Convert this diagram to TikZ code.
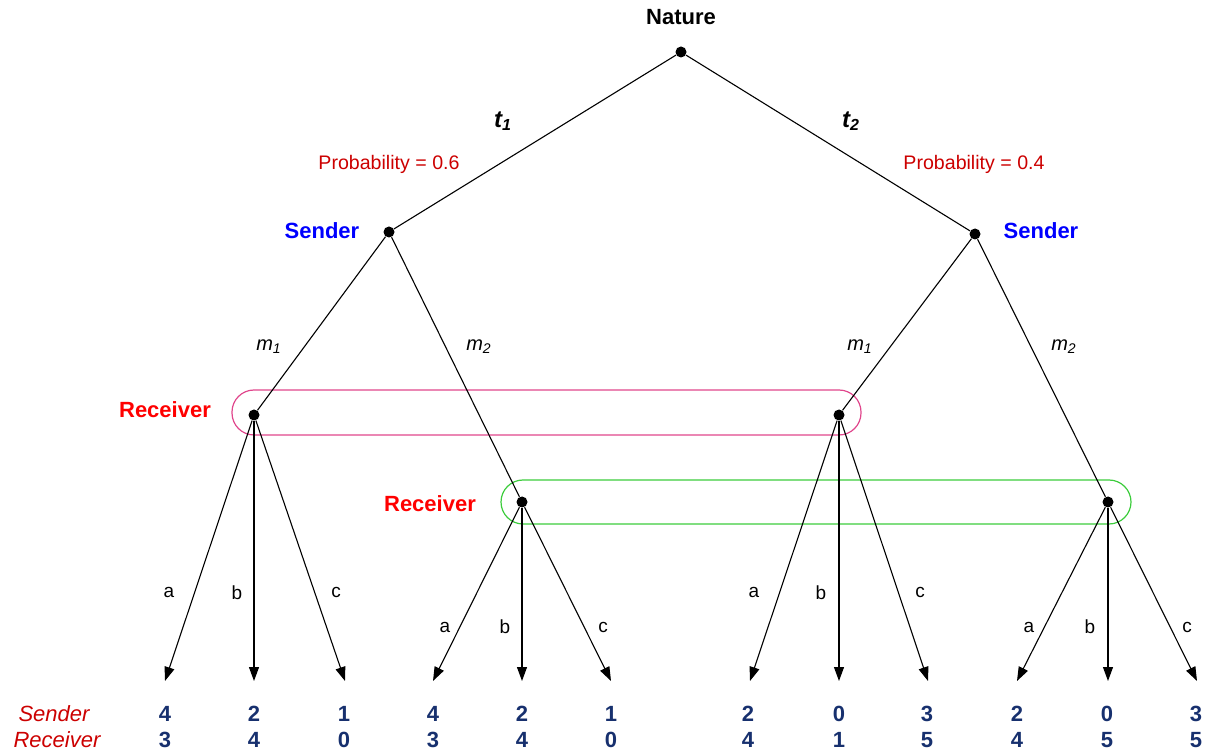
\documentclass[tikz,border=0pt]{standalone}
\usepackage{fontspec}
\setmainfont{Liberation Sans}
\usepackage{xcolor}
\usetikzlibrary{arrows.meta}
\definecolor{probred}{HTML}{CC0000}
\definecolor{recred}{HTML}{FF0000}
\definecolor{sendblue}{HTML}{0000FF}
\definecolor{payblue}{HTML}{17306E}
\definecolor{setpink}{HTML}{E0468C}
\definecolor{setgreen}{HTML}{3CCC3C}

\begin{document}
\begin{tikzpicture}[x=0.5pt, y=-0.5pt]
    \tikzstyle{dot} = [circle, fill=black, inner sep=0pt, minimum size=5.5pt]
    \tikzstyle{branch} = [line width=0.55pt]
    \tikzstyle{move} = [line width=0.55pt, -{Triangle[length=7pt,width=5pt]}]
    \tikzstyle{player} = [font=\fontsize{11}{13}\selectfont\bfseries]
    \tikzstyle{prob} = [font=\fontsize{9.8}{12}\selectfont, text=probred]
    \tikzstyle{msg} = [font=\fontsize{10}{12}\selectfont\itshape]
    \tikzstyle{act} = [font=\fontsize{9.5}{12}\selectfont]
    \tikzstyle{payoff} = [font=\fontsize{11}{13}\selectfont\bfseries, text=payblue]
    \tikzstyle{infoset} = [draw, line width=0.6pt, rounded corners=11pt, inner sep=0pt]

    \useasboundingbox (0,0) rectangle (1217,754);

    % information sets
    \node [infoset, draw=setpink, minimum width=314.5pt, minimum height=22.5pt] (set1) at (546.5,412.5) {};
    \node [infoset, draw=setgreen, minimum width=315pt, minimum height=22pt] (set2) at (816,502) {};

    % decision nodes
    \node [dot] (nature) at (681,52) {};
    \node [dot] (send1) at (389,232) {};
    \node [dot] (send2) at (975,234) {};
    \node [dot] (rec1) at (254,415) {};
    \node [dot] (rec2) at (522,502) {};
    \node [dot] (rec3) at (839,415) {};
    \node [dot] (rec4) at (1108,502) {};

    % player labels
    \node [player] (naturelbl) at (681,17) {Nature};
    \node [player, text=sendblue] (send1lbl) at (322,231) {Sender};
    \node [player, text=sendblue] (send2lbl) at (1041,231) {Sender};
    \node [player, text=recred] (rec1lbl) at (165,410) {Receiver};
    \node [player, text=recred] (rec2lbl) at (430,504) {Receiver};

    % nature's moves
    \node [font=\fontsize{12}{14}\selectfont\bfseries\itshape] (t1) at (503,121) {t\textsubscript{1}};
    \node [font=\fontsize{12}{14}\selectfont\bfseries\itshape] (t2) at (851,121) {t\textsubscript{2}};
    \node [prob] (p1) at (389,164) {Probability = 0.6};
    \node [prob] (p2) at (974,164) {Probability = 0.4};
    \draw [branch] (nature) -- (send1);
    \draw [branch] (nature) -- (send2);

    % sender's messages
    \node [msg] (m1a) at (269,347) {m\textsubscript{1}};
    \node [msg] (m2a) at (479,347) {m\textsubscript{2}};
    \node [msg] (m1b) at (860,347) {m\textsubscript{1}};
    \node [msg] (m2b) at (1064,347) {m\textsubscript{2}};
    \draw [branch] (send1) -- (rec1);
    \draw [branch] (send1) -- (rec2);
    \draw [branch] (send2) -- (rec3);
    \draw [branch] (send2) -- (rec4);

    % receiver's actions
    \coordinate (e1) at (165,681);
    \coordinate (e2) at (254,681);
    \coordinate (e3) at (345,681);
    \coordinate (e4) at (433,681);
    \coordinate (e5) at (522,681);
    \coordinate (e6) at (611,681);
    \coordinate (e7) at (750,681);
    \coordinate (e8) at (839,681);
    \coordinate (e9) at (928,681);
    \coordinate (e10) at (1017,681);
    \coordinate (e11) at (1108,681);
    \coordinate (e12) at (1197,681);
    \draw [move] (rec1) -- (e1);
    \draw [move] (rec1) -- (e2);
    \draw [move] (rec1) -- (e3);
    \draw [move] (rec2) -- (e4);
    \draw [move] (rec2) -- (e5);
    \draw [move] (rec2) -- (e6);
    \draw [move] (rec3) -- (e7);
    \draw [move] (rec3) -- (e8);
    \draw [move] (rec3) -- (e9);
    \draw [move] (rec4) -- (e10);
    \draw [move] (rec4) -- (e11);
    \draw [move] (rec4) -- (e12);
    \node [act] (a1) at (169,592) {a};
    \node [act] (b1) at (237,593) {b};
    \node [act] (c1) at (336,592) {c};
    \node [act] (a2) at (445,627) {a};
    \node [act] (b2) at (505,627) {b};
    \node [act] (c2) at (603,627) {c};
    \node [act] (a3) at (754,592) {a};
    \node [act] (b3) at (821,593) {b};
    \node [act] (c3) at (920,592) {c};
    \node [act] (a4) at (1029,627) {a};
    \node [act] (b4) at (1090,627) {b};
    \node [act] (c4) at (1187,627) {c};

    % payoffs
    \node [font=\fontsize{11}{13}\selectfont\itshape, text=probred] (sendrow) at (54,714) {Sender};
    \node [font=\fontsize{11}{13}\selectfont\itshape, text=probred] (recrow) at (57,740) {Receiver};
    \foreach \x/\s/\r [count=\i] in {165/4/3, 254/2/4, 344/1/0, 433/4/3, 522/2/4, 611/1/0,
                                     748/2/4, 839/0/1, 927/3/5, 1017/2/4, 1107/0/5, 1196/3/5}
    {
        \node [payoff] (us\i) at (\x,714) {\s};
        \node [payoff] (ur\i) at (\x,740) {\r};
    }
\end{tikzpicture}
\end{document}
